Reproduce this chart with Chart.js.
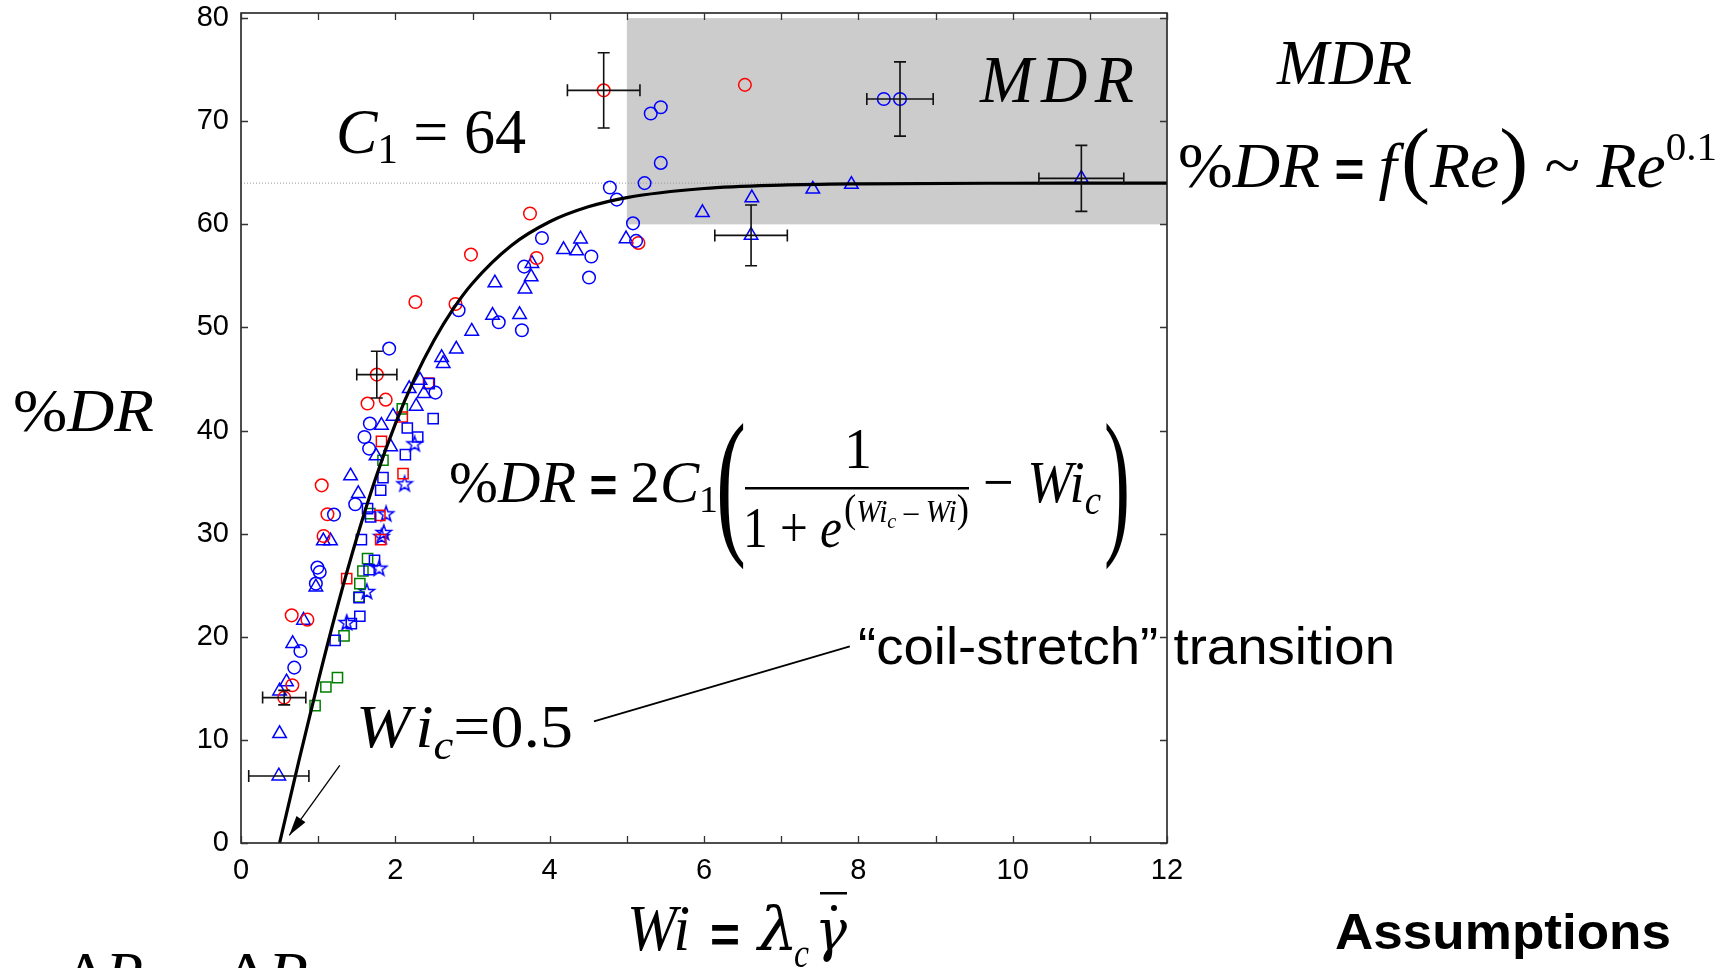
<!DOCTYPE html>
<html>
<head>
<meta charset="utf-8">
<script src="https://cdn.jsdelivr.net/npm/chart.js@4.4.1/dist/chart.umd.min.js"></script>
<style>
  html, body { margin: 0; padding: 0; background: #fff; }
  #wrap { width: 1726px; height: 968px; position: relative; overflow: hidden; }
</style>
</head>
<body>
<div id="wrap"><canvas id="chart" width="1726" height="968"></canvas></div>
<script>
// ---- measured drag reduction, [Wi, %DR] ----
const blueCircles = [
  [5.31, 70.75], [5.44, 71.36], [5.44, 65.96], [5.23, 64.0], [4.78, 63.57], [4.87, 62.4],
  [5.08, 60.1], [5.12, 58.4], [8.33, 72.16], [8.54, 72.16],
  [3.90, 58.68], [4.54, 56.88], [4.51, 54.84], [3.67, 55.9], [2.82, 51.67], [3.34, 50.5],
  [3.64, 49.73], [1.92, 47.95], [2.52, 43.68], [1.67, 40.68], [1.60, 39.38], [1.66, 38.25],
  [1.48, 32.85], [1.205, 31.85], [0.99, 26.71], [1.02, 26.29], [0.97, 25.16], [0.77, 18.62],
  [0.69, 17.01]
];
const redCircles = [
  [4.70, 73.0], [6.53, 73.53], [5.15, 58.2], [3.745, 61.05], [2.98, 57.07], [3.83, 56.74],
  [2.26, 52.47], [2.78, 52.28], [1.76, 45.43], [1.64, 42.62], [1.875, 43.0], [1.046, 34.69],
  [1.12, 31.88], [1.07, 29.78], [0.657, 22.08], [0.86, 21.66], [0.665, 15.3], [0.56, 14.1]
];
const blueTriangles = [
  [4.99, 58.6], [5.98, 61.14], [6.62, 62.57], [6.61, 58.93], [7.41, 63.41], [7.91, 63.87],
  [10.89, 64.46], [4.40, 58.58], [4.18, 57.55], [4.35, 57.42], [3.77, 56.2], [3.76, 54.9],
  [3.68, 53.73], [3.29, 54.32], [3.26, 51.18], [3.61, 51.25], [2.99, 49.63], [2.79, 47.9],
  [2.60, 47.08], [2.62, 46.5], [2.32, 44.88], [2.18, 44.07], [2.37, 43.59], [2.27, 42.36],
  [1.97, 41.39], [1.82, 40.51], [1.94, 38.41], [1.75, 37.54], [1.42, 35.6], [1.52, 33.89],
  [1.067, 29.3], [1.16, 29.3], [0.97, 24.83], [0.81, 21.6], [0.67, 19.34], [0.59, 15.62],
  [0.50, 14.74], [0.50, 10.61], [0.49, 6.5]
];
const blueSquares = [
  [2.44, 44.56], [2.49, 41.16], [2.155, 40.25], [2.29, 39.38], [2.13, 37.67], [1.84, 35.44],
  [1.81, 34.21], [1.64, 32.43], [1.68, 31.62], [1.56, 29.43], [1.73, 27.42], [1.66, 26.52],
  [1.53, 23.8], [1.54, 21.99], [1.43, 21.28], [1.22, 19.66]
];
const redSquares = [
  [2.43, 44.6], [2.09, 41.32], [1.82, 38.96], [2.10, 35.83], [1.80, 31.78], [1.81, 29.43], [1.37, 25.64]
];
const greenSquares = [
  [2.09, 42.1], [1.84, 37.12], [1.67, 31.95], [1.64, 27.58], [1.58, 26.38], [1.54, 25.16],
  [1.53, 23.86], [1.335, 20.08], [1.25, 16.04], [1.10, 15.13], [0.96, 13.33]
];
const blueStars = [
  [2.25, 38.67], [2.12, 34.79], [1.88, 31.88], [1.85, 30.07], [1.82, 29.68], [1.79, 26.61],
  [1.63, 24.35], [1.37, 21.34]
];

// error bars: [Wi, %DR, ±Wi, ±%DR]
const errorBars = [
  [4.70, 73.0, 0.47, 3.65], [8.54, 72.16, 0.43, 3.6], [6.61, 58.93, 0.47, 2.95],
  [10.89, 64.46, 0.55, 3.2], [1.76, 45.43, 0.26, 2.27], [0.56, 14.1, 0.28, 0.7],
  [0.49, 6.5, 0.39, 0]
];

// model curve %DR = 2C1(1/(1+e^(Wic-Wi)) - Wic), C1 = 64, Wic = 0.5
const fitWi = [0.5, 0.75, 1.0, 1.25, 1.5, 1.75, 2.0, 2.25, 2.5, 2.75, 3.0, 3.5, 4.0, 4.5, 5.0, 6.0, 7.0, 8.0, 10.0, 12.0];
const fitDR = [0, 7.96, 15.68, 22.94, 29.58, 35.50, 40.65, 45.06, 48.74, 51.80, 54.29, 57.93, 60.25, 61.70, 62.60, 63.48, 63.81, 63.93, 63.99, 64.0];

// asymptote C1 and the MDR band
const c1Wi = [0, 12];
const c1DR = [64, 64];
const mdrWi = [5, 12];
const mdrDR = [60, 80];

// axes
const xTicks = [0,1,2,3,4,5,6,7,8,9,10,11,12];
const xTickLabels = ['0','','2','','4','','6','','8','','10','','12'];
const yTicks = [0,10,20,30,40,50,60,70,80];
const yTickLabels = ['0','10','20','30','40','50','60','70','80'];

const SERIF = '"Liberation Serif","DejaVu Serif",serif';
const GREEK = '"DejaVu Serif","Liberation Serif",serif';
const SANS = '"Liberation Sans",Arial,sans-serif';
const it = s => `italic ${s}px ${SERIF}`;
const rm = s => `${s}px ${SERIF}`;
const eq = s => `bold ${s}px ${SANS}`;

const toXY = arr => arr.map(p => ({ x: p[0], y: p[1] }));

function pentagram(color, r) {
  const s = Math.ceil(r * 2 + 4);
  const c = document.createElement('canvas');
  c.width = s; c.height = s;
  const g = c.getContext('2d');
  g.strokeStyle = color; g.lineWidth = 1.5; g.lineJoin = 'miter';
  g.beginPath();
  for (let k = 0; k < 10; k++) {
    const a = -Math.PI / 2 + k * Math.PI / 5;
    const rr = k % 2 ? r * 0.4 : r;
    g.lineTo(s / 2 + rr * Math.cos(a), s / 2 + rr * Math.sin(a));
  }
  g.closePath(); g.stroke();
  return c;
}

// draws a run of differently styled text pieces, optionally squeezed to a width
function rich(ctx, x, y, parts, width, align) {
  let w = 0;
  for (const p of parts) { ctx.font = p.f; w += (p.g || 0) + ctx.measureText(p.t).width; }
  const sx = width ? width / w : 1;
  const x0 = align === 'center' ? x - (w * sx) / 2 : x;
  ctx.save();
  ctx.translate(x0, y); ctx.scale(sx, 1);
  ctx.textAlign = 'left'; ctx.textBaseline = 'alphabetic'; ctx.fillStyle = '#000';
  let cx = 0;
  for (const p of parts) {
    ctx.font = p.f; cx += p.g || 0;
    ctx.fillText(p.t, cx, p.dy || 0);
    cx += ctx.measureText(p.t).width;
  }
  ctx.restore();
}

function scatterSet(data, color, style, radius) {
  return {
    type: 'scatter', data: toXY(data), showLine: false,
    pointStyle: style, pointRadius: radius, pointBorderWidth: 1.5,
    pointBorderColor: color, pointBackgroundColor: 'rgba(0,0,0,0)'
  };
}

const decor = {
  id: 'decor',
  beforeDatasetsDraw(chart) {
    const { ctx, scales: { x, y } } = chart;
    const l = x.getPixelForValue(mdrWi[0]), r = x.getPixelForValue(mdrWi[1]);
    const b = y.getPixelForValue(mdrDR[0]), t = y.getPixelForValue(mdrDR[1]);
    ctx.save();
    ctx.fillStyle = '#cccccc';
    ctx.fillRect(l, t, r - l, b - t);
    ctx.restore();
  },
  afterDatasetsDraw(chart) {
    const { ctx, chartArea: a, scales: { x, y } } = chart;
    ctx.save();
    // error bars
    ctx.strokeStyle = '#111'; ctx.lineWidth = 1.6;
    const cap = 6;
    for (const e of errorBars) {
      const px = x.getPixelForValue(e[0]), py = y.getPixelForValue(e[1]);
      ctx.beginPath();
      if (e[2] > 0) {
        const xl = x.getPixelForValue(e[0] - e[2]), xr = x.getPixelForValue(e[0] + e[2]);
        ctx.moveTo(xl, py); ctx.lineTo(xr, py);
        ctx.moveTo(xl, py - cap); ctx.lineTo(xl, py + cap);
        ctx.moveTo(xr, py - cap); ctx.lineTo(xr, py + cap);
      }
      if (e[3] > 0) {
        const yt = y.getPixelForValue(e[1] + e[3]), yb = y.getPixelForValue(e[1] - e[3]);
        ctx.moveTo(px, yt); ctx.lineTo(px, yb);
        ctx.moveTo(px - cap, yt); ctx.lineTo(px + cap, yt);
        ctx.moveTo(px - cap, yb); ctx.lineTo(px + cap, yb);
      }
      ctx.stroke();
    }
    // pointer from the Wic label down to the onset
    const ax0 = x.getPixelForValue(1.28), ay0 = y.getPixelForValue(7.54);
    const ax1 = x.getPixelForValue(0.626), ay1 = y.getPixelForValue(0.74);
    ctx.strokeStyle = '#000'; ctx.lineWidth = 1.3;
    ctx.beginPath(); ctx.moveTo(ax0, ay0); ctx.lineTo(ax1, ay1); ctx.stroke();
    const ang = Math.atan2(ay1 - ay0, ax1 - ax0), hl = 20, hw = 5.5;
    ctx.fillStyle = '#000';
    ctx.beginPath();
    ctx.moveTo(ax1, ay1);
    ctx.lineTo(ax1 - hl * Math.cos(ang) + hw * Math.sin(ang), ay1 - hl * Math.sin(ang) - hw * Math.cos(ang));
    ctx.lineTo(ax1 - hl * Math.cos(ang) - hw * Math.sin(ang), ay1 - hl * Math.sin(ang) + hw * Math.cos(ang));
    ctx.closePath(); ctx.fill();
    // leader to the transition note
    ctx.lineWidth = 1.8;
    ctx.beginPath();
    ctx.moveTo(x.getPixelForValue(4.574), y.getPixelForValue(11.8));
    ctx.lineTo(x.getPixelForValue(7.89), y.getPixelForValue(19.08));
    ctx.stroke();
    // box frame and inward ticks
    ctx.strokeStyle = '#222'; ctx.lineWidth = 1.6;
    ctx.strokeRect(a.left, a.top, a.right - a.left, a.bottom - a.top);
    ctx.lineWidth = 1.3; ctx.strokeStyle = '#333';
    const tl = 7;
    ctx.beginPath();
    for (const v of xTicks) {
      const px = Math.round(x.getPixelForValue(v)) + 0.5;
      ctx.moveTo(px, a.bottom); ctx.lineTo(px, a.bottom - tl);
      ctx.moveTo(px, a.top); ctx.lineTo(px, a.top + tl);
    }
    for (const v of yTicks) {
      const py = Math.round(y.getPixelForValue(v)) + 0.5;
      ctx.moveTo(a.left, py); ctx.lineTo(a.left + tl, py);
      ctx.moveTo(a.right, py); ctx.lineTo(a.right - tl, py);
    }
    ctx.stroke();
    ctx.restore();
  },
  afterDraw(chart) {
    const ctx = chart.ctx;
    ctx.save();
    // C1 = 64
    rich(ctx, 336, 153, [{ t: 'C', f: it(64) }, { t: '1', f: rm(42), dy: 10 }, { t: ' = 64', f: rm(64) }], 190);
    // MDR inside the band
    rich(ctx, 980, 102, [{ t: 'M', f: it(68) }, { t: 'D', f: it(68), g: 8 }, { t: 'R', f: it(68), g: 8 }], 154);
    // MDR scaling note
    rich(ctx, 1277, 84, [{ t: 'MDR', f: it(64) }], 135);
    rich(ctx, 1178, 187, [
      { t: '%', f: rm(64) }, { t: 'DR', f: it(64) }, { t: ' = ', f: eq(50) }, { t: 'f', f: it(64) },
      { t: '(', f: rm(85), g: 4 }, { t: 'Re', f: it(64) }, { t: ')', f: rm(85) }, { t: ' ~ ', f: rm(64) },
      { t: 'Re', f: it(64) }, { t: '0.1', f: rm(40), dy: -27 }
    ], 539);
    // model equation
    rich(ctx, 449, 502, [
      { t: '%', f: rm(59) }, { t: 'DR', f: it(59) }, { t: ' = ', f: eq(48) },
      { t: '2', f: rm(59) }, { t: 'C', f: it(59) }, { t: '1', f: rm(38), dy: 10 }
    ], 269);
    rich(ctx, 716, 535, [{ t: '(', f: rm(160) }], 30);
    rich(ctx, 1104, 535, [{ t: ')', f: rm(160) }], 26);
    ctx.fillStyle = '#000';
    ctx.fillRect(745, 487, 224, 2.5);
    rich(ctx, 858, 468, [{ t: '1', f: rm(56) }], null, 'center');
    rich(ctx, 743, 547, [{ t: '1', f: rm(58) }, { t: ' + ', f: rm(58) }, { t: 'e', f: it(58) }], 99);
    rich(ctx, 844, 522, [
      { t: '(', f: rm(40) }, { t: 'Wi', f: it(32) }, { t: 'c', f: it(22), dy: 6 }, { t: ' – ', f: rm(32) },
      { t: 'Wi', f: it(32) }, { t: ')', f: rm(40) }
    ], 125);
    rich(ctx, 983, 502, [{ t: '− ', f: rm(59) }, { t: 'Wi', f: it(59) }, { t: 'c', f: it(40), dy: 12 }], 118);
    // Wic = 0.5
    rich(ctx, 356, 747, [
      { t: 'W', f: it(62) }, { t: 'i', f: it(62), g: 4 }, { t: 'c', f: it(42), dy: 12 }, { t: '=0.5', f: rm(62) }
    ], 217);
    // transition note
    rich(ctx, 858, 664, [{ t: '“coil-stretch” transition', f: `52px ${SANS}` }], 537);
    // axis titles
    rich(ctx, 13, 431, [{ t: '%', f: rm(62) }, { t: 'DR', f: it(62) }], 141);
    rich(ctx, 627, 950, [{ t: 'Wi', f: it(65) }], 63);
    rich(ctx, 710, 952, [{ t: '=', f: eq(52) }], 30);
    rich(ctx, 758, 950, [{ t: 'λ', f: `italic 60px ${GREEK}` }], 40);
    rich(ctx, 794, 967, [{ t: 'c', f: it(40) }], 15);
    rich(ctx, 815, 950, [{ t: 'γ', f: `italic 58px ${GREEK}` }], 32);
    ctx.fillRect(820, 892, 27, 2.5);
    ctx.beginPath(); ctx.arc(834, 908, 3, 0, Math.PI * 2); ctx.fill();
    // footer lines
    rich(ctx, 1335, 949, [{ t: 'Assumptions', f: `bold 50px ${SANS}` }], 336);
    rich(ctx, 66, 994, [{ t: 'Δ', f: rm(62) }, { t: 'P', f: it(62) }], 77);
    rich(ctx, 226, 994, [{ t: 'Δ', f: rm(62) }, { t: 'P', f: it(62) }], 82);
    ctx.restore();
  }
};

const star = pentagram('#0000ff', 8);

new Chart(document.getElementById('chart'), {
  type: 'scatter',
  data: {
    datasets: [
      {
        type: 'line', data: fitWi.map((w, i) => ({ x: w, y: fitDR[i] })),
        borderColor: '#000', borderWidth: 3.2, pointRadius: 0, fill: false,
        cubicInterpolationMode: 'monotone'
      },
      scatterSet(blueCircles, '#0000ff', 'circle', 6.3),
      scatterSet(redCircles, '#ff0000', 'circle', 6.3),
      scatterSet(blueTriangles, '#0000ff', 'triangle', 7.8),
      scatterSet(blueSquares, '#0000ff', 'rect', 7.2),
      scatterSet(redSquares, '#ff0000', 'rect', 7.2),
      scatterSet(greenSquares, '#008000', 'rect', 7.2),
      scatterSet(blueStars, '#0000ff', star, 8),
      {
        type: 'line', data: c1Wi.map((w, i) => ({ x: w, y: c1DR[i] })),
        borderColor: '#999', borderWidth: 1, borderDash: [1, 2], pointRadius: 0, fill: false
      }
    ]
  },
  options: {
    responsive: false, animation: false, devicePixelRatio: 1, events: [],
    layout: { padding: { left: 181, right: 559, top: 13, bottom: 65 } },
    plugins: { legend: { display: false }, tooltip: { enabled: false } },
    scales: {
      x: {
        type: 'linear', min: 0, max: 12,
        grid: { display: false, drawTicks: false }, border: { display: false },
        afterBuildTicks: s => { s.ticks = xTicks.map(v => ({ value: v })); },
        afterFit: s => { s.height = 60; s.paddingLeft = 0; s.paddingRight = 0; },
        ticks: {
          autoSkip: false, maxRotation: 0, padding: 11, color: '#000',
          font: { family: SANS, size: 29 },
          callback: (v, i) => xTickLabels[i]
        }
      },
      y: {
        type: 'linear', min: 0, max: 80.5,
        grid: { display: false, drawTicks: false }, border: { display: false },
        afterBuildTicks: s => { s.ticks = yTicks.map(v => ({ value: v })); },
        afterFit: s => { s.width = 60; s.paddingTop = 0; s.paddingBottom = 0; },
        ticks: {
          autoSkip: false, padding: 12, color: '#000',
          font: { family: SANS, size: 29 },
          callback: (v, i) => yTickLabels[i]
        }
      }
    }
  },
  plugins: [decor]
});
</script>
</body>
</html>
